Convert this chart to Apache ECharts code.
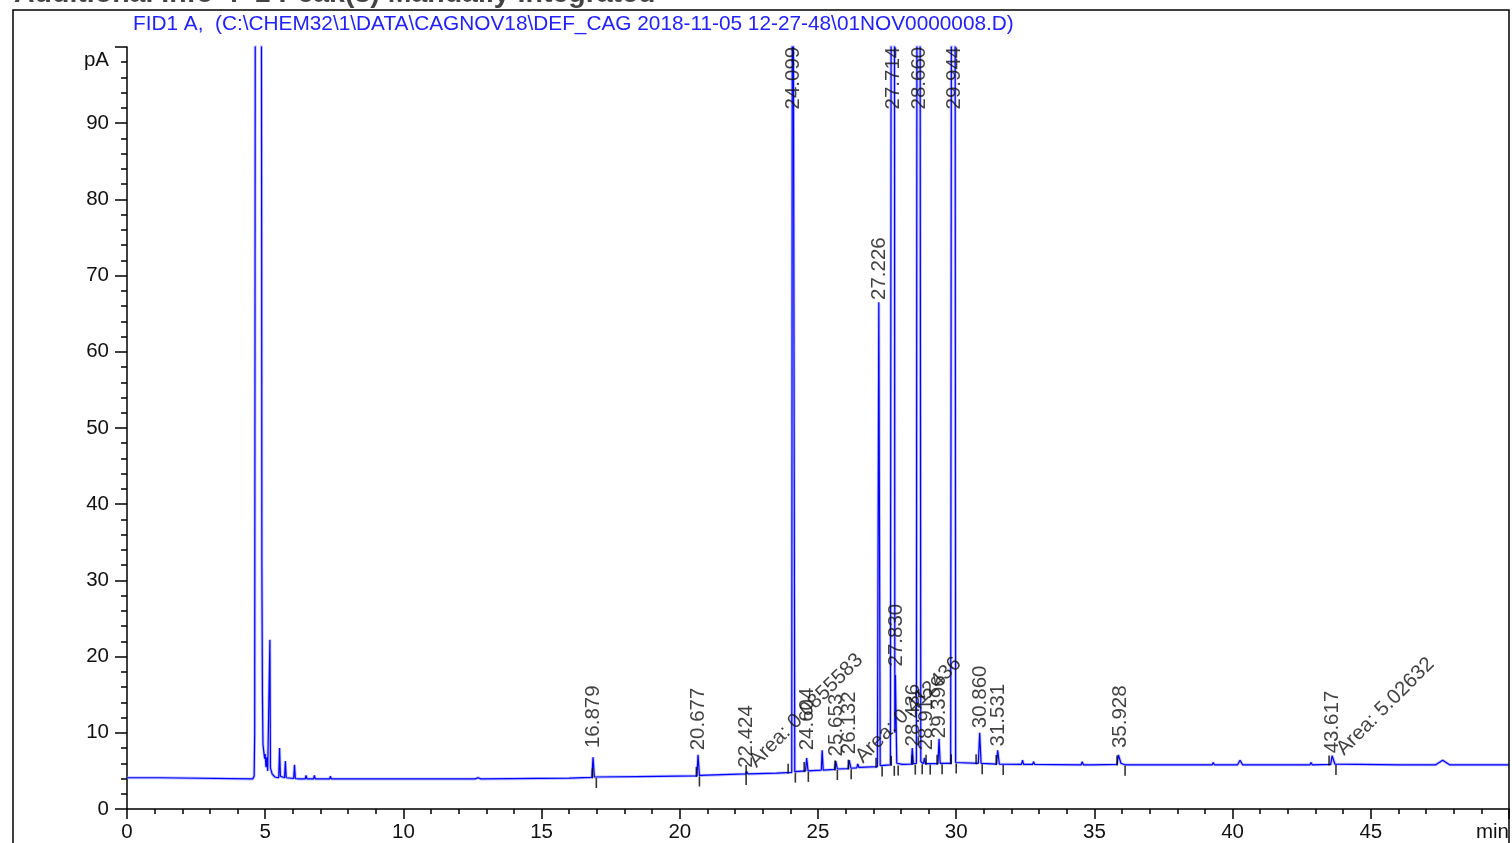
<!DOCTYPE html>
<html lang="en">
<head>
<meta charset="UTF-8">
<title>FID1 A</title>
<style>
    html, body { margin: 0; padding: 0; background: #fff; }
    #main { width: 1512px; height: 843px; }
</style>
</head>
<body>
<div id="main"></div>
<script src="https://cdn.jsdelivr.net/npm/echarts@6/dist/echarts.min.js"></script>
<script>
    // FID trace: retention time (min) and signal (pA)
    var traceMin = [0, 1.2, 1.25, 4.55, 4.60, 4.62, 4.65, 4.75, 4.85, 4.87, 4.88, 4.90, 4.92, 4.95, 4.98, 5.00, 5.03, 5.06, 5.09, 5.13, 5.15, 5.17, 5.19, 5.25, 5.35,
        5.49, 5.52, 5.55, 5.70, 5.73, 5.76, 6.03, 6.06, 6.09, 6.20, 6.45, 6.48, 6.51, 6.75, 6.78, 6.81, 7.33, 7.36, 7.39, 12.6, 12.7, 12.8, 16.0,
        16.82, 16.86, 16.91, 18.5, 20.62, 20.66, 20.71, 22.38, 22.42, 22.47, 23.50, 24.05, 24.08, 24.12, 24.16, 24.55, 24.59, 24.64,
        25.12, 25.15, 25.19, 25.60, 25.64, 25.70, 26.09, 26.13, 26.19, 26.40, 26.44, 26.48, 27.15, 27.20, 27.25, 27.62, 27.66, 27.76,
        27.78, 27.80, 27.85, 28.05, 28.38, 28.41, 28.45, 28.56, 28.59, 28.68, 28.72, 28.82, 28.85, 28.89, 29.34, 29.38, 29.42,
        29.80, 29.84, 29.95, 29.98, 30.80, 30.85, 30.90, 31.46, 31.50, 31.56, 32.36, 32.40, 32.44, 32.76, 32.80, 32.84,
        34.52, 34.56, 34.60, 34.86, 34.90, 34.94, 35.82, 35.87, 35.96, 36.10, 36.84, 36.87, 36.90, 38.26, 38.30, 38.34,
        39.26, 39.30, 39.34, 40.18, 40.27, 40.36, 42.80, 42.84, 42.88, 43.55, 43.60, 43.70, 46.06, 46.10, 46.14,
        47.35, 47.60, 47.85, 48.96, 49.00, 49.04, 50];
    var tracePA = [4.1, 4.1, 3.95, 3.95, 4.3, 10, 150, 170, 150, 82, 32, 15, 8.5, 7.5, 6.6, 7.2, 5.5, 6.8, 5.0, 4.8, 5.2, 22.2, 5.4, 4.6, 4.2,
        4.1, 8.0, 4.3, 4.1, 6.3, 4.1, 4.0, 5.8, 4.0, 3.95, 3.95, 4.4, 3.95, 3.95, 4.4, 3.95, 3.95, 4.3, 3.95, 3.95, 4.1, 3.95, 4.05,
        4.15, 6.8, 4.2, 4.25, 4.35, 7.1, 4.4, 4.6, 4.9, 4.6, 4.7, 4.8, 160, 160, 4.9, 5.0, 6.7, 5.0,
        5.1, 7.7, 5.1, 5.2, 6.3, 5.25, 5.3, 6.4, 5.35, 5.4, 5.9, 5.45, 5.55, 66.5, 5.7, 5.8, 160, 160,
        10, 17.6, 6.0, 5.85, 5.9, 8.0, 5.95, 6.0, 160, 160, 6.2, 5.95, 6.7, 5.95, 5.95, 9.2, 6.0,
        6.0, 160, 160, 6.1, 6.0, 10.0, 6.0, 5.9, 7.7, 5.9, 5.85, 6.4, 5.85, 5.85, 6.2, 5.85,
        5.8, 6.2, 5.8, 5.8, 6.0, 5.8, 5.85, 7.1, 6.0, 5.8, 5.8, 6.0, 5.8, 5.8, 6.0, 5.8,
        5.8, 6.1, 5.8, 5.8, 6.4, 5.8, 5.8, 6.1, 5.8, 5.85, 7.0, 5.9, 5.8, 6.0, 5.8,
        5.8, 6.4, 5.8, 5.8, 6.0, 5.8, 5.8];

    // retention time labels and the level (pA) where each label starts
    var peakNames = ['16.879', '20.677', '22.424', '24.099', '24.604', '25.653', '26.132', '27.226', '27.714', '27.830',
        '28.436', '28.660', '28.915', '29.396', '29.944', '30.860', '31.531', '35.928', '43.617'];
    var peakLabelPA = [8.0, 7.7, 5.4, 91.8, 7.7, 6.9, 7.2, 66.8, 91.8, 18.7,
        8.2, 91.8, 7.7, 9.3, 91.8, 10.6, 8.2, 8.0, 7.3];

    // manual integration area notes
    var areaNotes = ['Area: 0.0855583', 'Area: 0.412436', 'Area: 5.02632'];
    var areaMin = [22.9, 26.75, 44.15];
    var areaPA = [4.9, 5.5, 6.5];

    // baseline start / stop marks
    var startMin = [16.84, 20.60, 22.40, 23.92, 24.50, 25.62, 26.10, 27.10, 27.65, 28.41, 28.91, 29.31, 29.82, 30.72, 31.45, 35.82, 43.49];
    var startPA = [4.15, 4.35, 4.6, 4.75, 5.0, 5.2, 5.3, 5.55, 5.8, 5.9, 5.95, 5.95, 6.0, 6.0, 5.9, 5.85, 5.85];
    var stopMin = [16.98, 20.71, 22.40, 24.18, 24.65, 25.70, 26.20, 27.32, 27.76, 27.90, 28.52, 28.77, 29.06, 29.49, 30.00, 30.94, 31.70, 36.11, 43.74];
    var stopPA = [4.2, 4.4, 4.6, 4.9, 5.0, 5.25, 5.35, 5.7, 5.8, 5.85, 5.95, 6.0, 5.95, 6.0, 6.1, 6.0, 5.9, 5.8, 5.9];

    var fontFam = '"Liberation Sans", Arial, sans-serif';
    var fs = 20.5;

    var myChart = echarts.init(document.getElementById('main'));

    var traceData = [];
    traceMin.forEach(function (t, i) {
        traceData.push([t, tracePA[i]]);
    });

    option = {
        animation: false,
        grid: { left: 127, right: 2, top: 47, bottom: 32 },
        xAxis: {
            type: 'value',
            min: 0,
            max: 50,
            interval: 5,
            axisLine: { lineStyle: { color: '#000', width: 1.5 } },
            axisTick: { length: 10, lineStyle: { color: '#000', width: 1.5 } },
            minorTick: { show: true, splitNumber: 5, length: 5, lineStyle: { color: '#000', width: 1.5 } },
            splitLine: { show: false },
            axisLabel: {
                fontSize: fs, fontFamily: fontFam, color: '#111', margin: 13,
                alignMaxLabel: 'right',
                formatter: function (v) { return v === 50 ? 'min' : v; }
            }
        },
        yAxis: {
            type: 'value',
            min: 0,
            max: 100,
            interval: 10,
            name: 'pA',
            nameLocation: 'end',
            nameGap: -13,
            nameTextStyle: { fontSize: fs, fontFamily: fontFam, color: '#111', align: 'right', verticalAlign: 'middle', padding: [0, 18, 0, 0] },
            axisLine: { lineStyle: { color: '#000', width: 1.5 } },
            axisTick: { length: 12, lineStyle: { color: '#000', width: 1.5 } },
            minorTick: { show: true, splitNumber: 5, length: 6, lineStyle: { color: '#000', width: 1.5 } },
            splitLine: { show: false },
            axisLabel: {
                fontSize: fs, fontFamily: fontFam, color: '#111', margin: 18,
                formatter: function (v) { return v === 100 ? '' : v; }
            }
        },
        graphic: [
            {
                type: 'rect', silent: true, z: 100,
                shape: { x: 13, y: 10, width: 1496, height: 900 },
                style: { fill: 'none', stroke: '#000', lineWidth: 1.5 }
            },
            {
                type: 'text', left: 133, top: 14,
                style: { text: 'FID1 A,  (C:\\CHEM32\\1\\DATA\\CAGNOV18\\DEF_CAG 2018-11-05 12-27-48\\01NOV0000008.D)', font: '20.8px ' + fontFam, fill: '#2222ff' }
            },
            {
                type: 'text', left: 14, top: -20,
                style: { text: 'Additional Info  :  1 Peak(s) Manually Integrated', font: 'bold 28.5px ' + fontFam, fill: '#444' }
            }
        ],
        series: [
            {
                // soft halo under the trace
                type: 'line',
                data: traceData,
                showSymbol: false,
                clip: true,
                silent: true,
                lineStyle: { color: '#8c8cff', width: 3, opacity: 0.55 },
                z: 1
            },
            {
                type: 'line',
                data: traceData,
                showSymbol: false,
                clip: true,
                lineStyle: { color: '#0000ff', width: 1.2 },
                z: 2
            },
            {
                // retention time labels, written upwards
                type: 'scatter',
                symbolSize: 1,
                itemStyle: { color: 'transparent' },
                data: peakNames.map(function (s, i) { return [parseFloat(s), peakLabelPA[i], s]; }),
                label: {
                    show: true, position: 'inside', rotate: 90, align: 'left', verticalAlign: 'middle',
                    fontSize: fs, fontFamily: fontFam, color: '#111',
                    formatter: function (p) { return p.data[2]; }
                },
                z: 3
            },
            {
                type: 'scatter',
                symbolSize: 1,
                itemStyle: { color: 'transparent' },
                data: areaNotes.map(function (s, i) { return [areaMin[i], areaPA[i], s]; }),
                label: {
                    show: true, position: 'inside', rotate: 45, align: 'left', verticalAlign: 'bottom',
                    fontSize: fs, fontFamily: fontFam, color: '#111',
                    formatter: function (p) { return p.data[2]; }
                },
                z: 3
            },
            {
                type: 'scatter',
                symbol: 'rect',
                symbolSize: [1.6, 10],
                symbolOffset: [0, -4],
                itemStyle: { color: '#000' },
                data: startMin.map(function (t, i) { return [t, startPA[i]]; }),
                z: 4
            },
            {
                type: 'scatter',
                symbol: 'rect',
                symbolSize: [1.6, 10],
                symbolOffset: [0, 6],
                itemStyle: { color: '#000' },
                data: stopMin.map(function (t, i) { return [t, stopPA[i]]; }),
                z: 4
            }
        ]
    };

    myChart.setOption(option);
</script>
</body>
</html>
